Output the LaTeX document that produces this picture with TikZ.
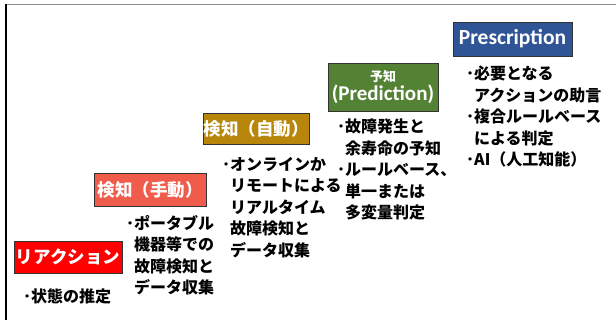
\documentclass[tikz,border=0pt]{standalone}
\usepackage{fontspec}
\setmainfont{Noto Sans CJK JP}
\newfontfamily\latinb{Carlito}
\definecolor{cRed}{RGB}{255,0,0}
\definecolor{cSalmon}{RGB}{240,92,76}
\definecolor{cGold}{RGB}{184,134,11}
\definecolor{cGreen}{RGB}{84,130,53}
\definecolor{cBlue}{RGB}{47,85,151}
\begin{document}
\begin{tikzpicture}[x=1pt,y=-1pt,
  stagebox/.style={draw=black!80, line width=0.8pt, text=white, inner sep=0pt, anchor=center,
     font=\fontsize{17.5}{19}\selectfont\bfseries},
  desc/.style={anchor=north west, inner sep=0pt, align=left,
     font=\fontsize{16}{21.5}\selectfont\bfseries}]
\useasboundingbox (0,0) rectangle (616,320);
\fill[white] (0,0) rectangle (616,320);
\draw[black!45, line width=1.5pt] (5,4.5) -- (616,4.5);
\draw[black, line width=1.5pt] (6,4) -- (6,320);
% stage boxes
\node[stagebox, fill=cRed, minimum width=108pt, minimum height=32pt] (s1) at (68,257) {リアクション};
\node[stagebox, fill=cSalmon, minimum width=112pt, minimum height=33pt] (s2) at (150,189.5) {検知（手動）};
\node[stagebox, fill=cGold, minimum width=106pt, minimum height=31pt] (s3) at (256,129) {検知（自動）};
\node[stagebox, fill=cGreen, minimum width=110pt, minimum height=48pt, align=center] (s4) at (383,87)
  {{\fontsize{13}{14}\selectfont 予知}\\[0pt]{\latinb\fontsize{21}{22}\selectfont (Prediction)}};
\node[stagebox, fill=cBlue, minimum width=119pt, minimum height=34pt] (s5) at (512.5,39)
  {\latinb\fontsize{21.5}{22}\selectfont Prescription};
% descriptions
\node[desc] (d1) at (23,289) {･状態の推定};
\node[desc] (d2) at (126,215) {･ポータブル\\\phantom{･}機器等での\\\phantom{･}故障検知と\\\phantom{･}データ収集};
\node[desc] (d3) at (222,157) {･オンラインか\\\phantom{･}リモートによる\\\phantom{･}リアルタイム\\\phantom{･}故障検知と\\\phantom{･}データ収集};
\node[desc] (d4) at (337,119) {･故障発生と\\\phantom{･}余寿命の予知\\･ルールベース、\\\phantom{･}単一または\\\phantom{･}多変量判定};
\node[desc] (d5) at (466,66) {･必要となる\\\phantom{･}アクションの助言\\･複合ルールベース\\\phantom{･}による判定\\･AI（人工知能）};
\end{tikzpicture}
\end{document}
